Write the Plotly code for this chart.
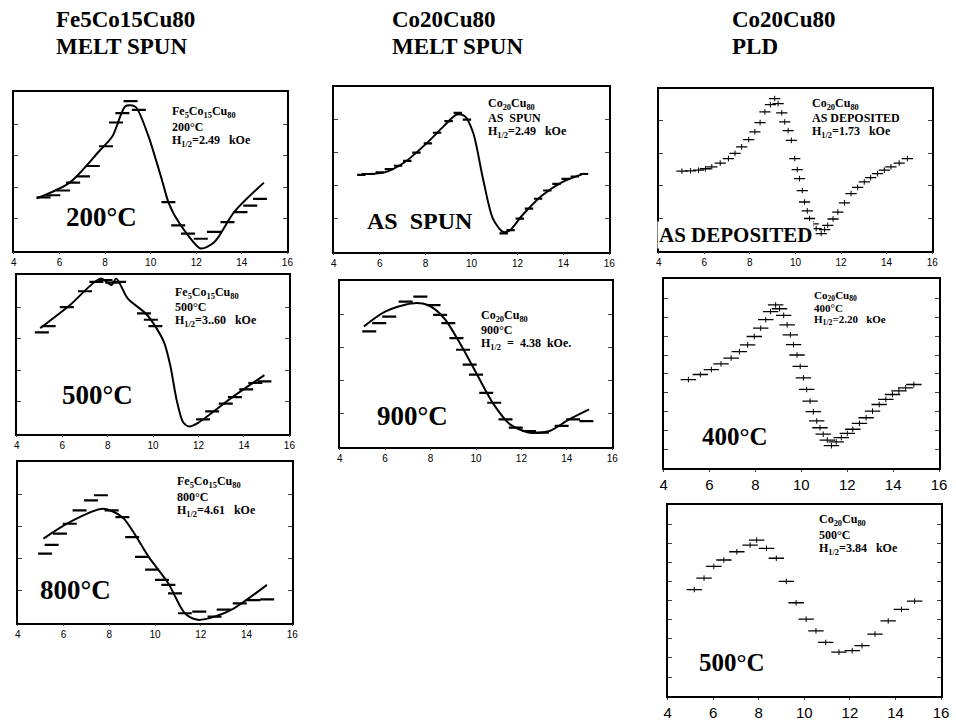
import plotly.graph_objects as go

# ---------------- data (y = relative signal 0..1 within each frame) ----------------
x_ticks = [4, 6, 8, 10, 12, 14, 16]
x_tick_text = ["4", "6", "8", "10", "12", "14", "16"]

# Fe5Co15Cu80 melt spun, 200 C
p1_fit_x = [5.0, 6.45, 7.75, 8.33, 8.9, 9.33, 9.9, 10.05, 10.49, 10.78, 11.06, 11.64, 12.2, 12.8, 13.67, 14.97]
p1_fit_y = [0.33, 0.43, 0.63, 0.725, 0.914, 0.91, 0.725, 0.66, 0.45, 0.306, 0.22, 0.097, 0.013, 0.055, 0.245, 0.43]
p1_dat_x = [5.3, 5.73, 6.16, 6.6, 7.03, 7.46, 8.04, 8.48, 8.76, 9.12, 9.48, 10.78, 11.21, 11.64, 12.2, 12.78, 13.37, 13.94, 14.37, 14.8]
p1_dat_y = [0.337, 0.35, 0.38, 0.43, 0.47, 0.535, 0.66, 0.81, 0.87, 0.945, 0.89, 0.306, 0.16, 0.107, 0.075, 0.118, 0.18, 0.243, 0.285, 0.327]

# Fe5Co15Cu80 melt spun, 500 C
p2_fit_x = [5.03, 6.32, 7.69, 8.17, 8.38, 8.88, 9.74, 10.46, 10.75, 11.04, 11.33, 11.6, 12.0, 13.45, 14.9]
p2_fit_y = [0.667, 0.81, 0.98, 0.94, 0.98, 0.855, 0.75, 0.585, 0.435, 0.21, 0.07, 0.045, 0.07, 0.226, 0.37]
p2_dat_x = [5.1, 5.4, 6.2, 7.0, 7.5, 7.9, 8.2, 8.5, 9.6, 9.9, 10.1, 12.2, 12.6, 13.2, 13.6, 14.1, 14.5, 14.9]
p2_dat_y = [0.64, 0.68, 0.8, 0.9, 0.96, 0.97, 0.955, 0.96, 0.76, 0.72, 0.68, 0.09, 0.14, 0.19, 0.23, 0.28, 0.32, 0.33]

# Fe5Co15Cu80 melt spun, 800 C
p3_fit_x = [5.12, 6.27, 7.71, 8.57, 9.72, 10.58, 11.3, 11.87, 12.6, 13.45, 14.89]
p3_fit_y = [0.524, 0.627, 0.71, 0.658, 0.41, 0.244, 0.058, 0.017, 0.037, 0.089, 0.235]
p3_dat_x = [5.19, 5.48, 5.84, 6.27, 6.7, 7.2, 7.63, 8.1, 8.57, 9.0, 9.43, 9.87, 10.3, 10.58, 10.87, 11.3, 11.93, 12.6, 13.0, 13.7, 14.3, 14.9]
p3_dat_y = [0.43, 0.485, 0.555, 0.617, 0.70, 0.763, 0.795, 0.70, 0.658, 0.534, 0.41, 0.33, 0.267, 0.235, 0.182, 0.058, 0.068, 0.037, 0.08, 0.12, 0.14, 0.145]

# Co20Cu80 melt spun, as spun
m1_fit_x = [5.21, 6.21, 7.07, 8.07, 8.79, 9.36, 9.71, 10.07, 10.5, 10.93, 11.36, 11.64, 12.21, 13.07, 13.93, 14.93]
m1_fit_y = [0.47, 0.48, 0.54, 0.66, 0.76, 0.83, 0.82, 0.72, 0.44, 0.2, 0.12, 0.125, 0.22, 0.34, 0.42, 0.474]
m1_dat_x = [5.2, 5.6, 6.0, 6.4, 6.8, 7.2, 7.6, 8.1, 8.5, 9.0, 9.4, 9.8, 11.4, 11.7, 12.1, 12.5, 12.9, 13.3, 13.7, 14.1, 14.5, 14.9]
m1_dat_y = [0.465, 0.47, 0.48, 0.5, 0.52, 0.55, 0.6, 0.655, 0.72, 0.79, 0.84, 0.8, 0.11, 0.13, 0.2, 0.26, 0.32, 0.37, 0.41, 0.44, 0.455, 0.47]

# Co20Cu80 melt spun, 900 C
m2_fit_x = [5.06, 6.0, 7.16, 7.88, 8.6, 9.33, 10.05, 10.78, 11.5, 12.37, 13.24, 14.1, 14.98]
m2_fit_y = [0.727, 0.817, 0.867, 0.857, 0.777, 0.616, 0.435, 0.255, 0.134, 0.084, 0.094, 0.164, 0.225]
m2_dat_x = [5.3, 5.74, 6.18, 6.9, 7.55, 8.13, 8.42, 8.78, 9.14, 9.43, 9.72, 10.0, 10.45, 10.8, 11.3, 11.75, 12.33, 12.9, 13.77, 14.28, 14.86]
m2_dat_y = [0.697, 0.747, 0.787, 0.878, 0.908, 0.857, 0.797, 0.747, 0.657, 0.586, 0.496, 0.435, 0.325, 0.265, 0.164, 0.114, 0.094, 0.084, 0.125, 0.164, 0.154]

# Co20Cu80 PLD, as deposited
r1_dat_x = [5.02, 5.4, 5.75, 6.05, 6.33, 6.7, 7.06, 7.35, 7.64, 7.95, 8.22, 8.45, 8.66, 8.9, 9.09, 9.24, 9.4, 9.53, 9.68, 9.82, 9.97, 10.08, 10.18, 10.3, 10.4, 10.52, 10.62, 10.78, 10.91, 11.13, 11.28, 11.42, 11.65, 11.86, 12.15, 12.44, 12.73, 13.02, 13.3, 13.6, 13.9, 14.19, 14.55, 14.91]
r1_dat_y = [0.49, 0.492, 0.496, 0.505, 0.517, 0.54, 0.568, 0.6, 0.64, 0.685, 0.733, 0.79, 0.856, 0.9, 0.938, 0.907, 0.85, 0.794, 0.74, 0.68, 0.568, 0.5, 0.444, 0.37, 0.3, 0.245, 0.198, 0.165, 0.136, 0.105, 0.13, 0.156, 0.195, 0.238, 0.295, 0.352, 0.39, 0.424, 0.45, 0.475, 0.497, 0.517, 0.54, 0.568]

# Co20Cu80 PLD, 400 C
r2_dat_x = [5.08, 5.6, 6.08, 6.5, 6.94, 7.3, 7.66, 7.95, 8.23, 8.45, 8.66, 8.88, 9.05, 9.23, 9.38, 9.52, 9.66, 9.81, 9.95, 10.09, 10.23, 10.38, 10.52, 10.67, 10.81, 10.95, 11.13, 11.31, 11.52, 11.74, 12.0, 12.24, 12.53, 12.82, 13.1, 13.39, 13.68, 13.97, 14.25, 14.54, 14.9]
r2_dat_y = [0.47, 0.497, 0.523, 0.553, 0.584, 0.618, 0.654, 0.698, 0.742, 0.787, 0.83, 0.865, 0.845, 0.81, 0.76, 0.707, 0.655, 0.6, 0.54, 0.479, 0.418, 0.356, 0.3, 0.251, 0.215, 0.181, 0.15, 0.12, 0.14, 0.163, 0.185, 0.207, 0.238, 0.268, 0.303, 0.338, 0.365, 0.391, 0.41, 0.426, 0.444]

# Co20Cu80 PLD, 500 C
r3_dat_x = [5.17, 5.6, 6.03, 6.47, 7.04, 7.62, 7.91, 8.34, 8.77, 9.21, 9.64, 10.08, 10.51, 10.94, 11.52, 12.1, 12.53, 13.1, 13.68, 14.26, 14.84]
r3_dat_y = [0.558, 0.618, 0.679, 0.713, 0.756, 0.791, 0.817, 0.774, 0.722, 0.601, 0.489, 0.403, 0.342, 0.281, 0.23, 0.238, 0.264, 0.325, 0.394, 0.454, 0.497]

col_titles = [("Fe5Co15Cu80", "MELT SPUN"), ("Co20Cu80", "MELT SPUN"), ("Co20Cu80", "PLD")]

panel_info = [
    ["Fe<sub>5</sub>Co<sub>15</sub>Cu<sub>80</sub>", "200°C", "H<sub>1/2</sub>=2.49   kOe", "200°C"],
    ["Fe<sub>5</sub>Co<sub>15</sub>Cu<sub>80</sub>", "500°C", "H<sub>1/2</sub>=3..60   kOe", "500°C"],
    ["Fe<sub>5</sub>Co<sub>15</sub>Cu<sub>80</sub>", "800°C", "H<sub>1/2</sub>=4.61   kOe", "800°C"],
    ["Co<sub>20</sub>Cu<sub>80</sub>", "AS  SPUN", "H<sub>1/2</sub>=2.49   kOe", "AS  SPUN"],
    ["Co<sub>20</sub>Cu<sub>80</sub>", "900°C", "H<sub>1/2</sub>  =  4.38  kOe.", "900°C"],
    ["Co<sub>20</sub>Cu<sub>80</sub>", "AS DEPOSITED", "H<sub>1/2</sub>=1.73   kOe", "AS DEPOSITED"],
    ["Co<sub>20</sub>Cu<sub>80</sub>", "400°C", "H<sub>1/2</sub>=2.20   kOe", "400°C"],
    ["Co<sub>20</sub>Cu<sub>80</sub>", "500°C", "H<sub>1/2</sub>=3.84   kOe", "500°C"],
]

# ---------------- layout (pixel geometry) ----------------
W, H = 956, 721
SERIF = "Liberation Serif, Times New Roman, serif"
SANS = "Liberation Sans, Arial, sans-serif"

# (left, right, top, bottom) frame boxes in pixels
boxes = [
    (10, 287, 93, 252),
    (13, 289, 277, 436),
    (14, 292, 465, 626),
    (334, 613, 87, 253),
    (340, 616, 283, 449),
    (663, 940, 89, 252),
    (668, 947, 281, 471),
    (672, 949, 508, 700),
]
# inner text position (x left, y of first line, line spacing)
inner_pos = [
    (168, 113, 14.5), (171, 295, 14), (173, 485, 14.5),
    (488, 105, 14), (481, 318, 14),
    (816, 105, 14), (818, 298, 12), (823, 523, 14.5),
]
# big label centre (x, y) and size
big_pos = [(99, 218, 27), (95, 397, 27), (72, 593, 27), (421, 222, 24),
           (414, 418, 27), (741, 236, 21), (740, 439, 25), (737, 666, 25)]
tick_size = [10, 10, 10, 10, 10, 10, 15, 15]
inner_size = [12, 12, 12, 12, 12, 12, 11, 12]

fits = [(p1_fit_x, p1_fit_y), (p2_fit_x, p2_fit_y), (p3_fit_x, p3_fit_y),
        (m1_fit_x, m1_fit_y), (m2_fit_x, m2_fit_y), None, None, None]
dats = [(p1_dat_x, p1_dat_y), (p2_dat_x, p2_dat_y), (p3_dat_x, p3_dat_y),
        (m1_dat_x, m1_dat_y), (m2_dat_x, m2_dat_y),
        (r1_dat_x, r1_dat_y), (r2_dat_x, r2_dat_y), (r3_dat_x, r3_dat_y)]

fig = go.Figure()
layout_axes = {}
annotations = []

for i, (l, r, t, b) in enumerate(boxes):
    n = "" if i == 0 else str(i + 1)
    xa, ya = "x" + n, "y" + n
    layout_axes["xaxis" + n] = dict(
        domain=[l / W, r / W], range=[4, 16], anchor=ya,
        tickvals=x_ticks, ticktext=x_tick_text, ticks="outside", ticklen=2,
        tickfont=dict(family=SANS, size=tick_size[i], color="black"),
        showline=True, linecolor="black", linewidth=1.5, mirror=True,
        showgrid=False, zeroline=False, fixedrange=True,
    )
    layout_axes["yaxis" + n] = dict(
        domain=[1 - b / H, 1 - t / H], range=[0, 1], anchor=xa,
        showticklabels=False, ticks="inside", ticklen=4, dtick=0.1 if i >= 6 else 0.2,
        showline=True, linecolor="black", linewidth=2, mirror="ticks",
        showgrid=False, zeroline=False, fixedrange=True,
    )
    if fits[i] is not None:
        fx, fy = fits[i]
        fig.add_trace(go.Scatter(x=fx, y=fy, xaxis=xa, yaxis=ya, mode="lines",
                                 line=dict(color="black", width=2, shape="spline", smoothing=0.8),
                                 showlegend=False, hoverinfo="skip"))
    dx, dy = dats[i]
    if i < 5:
        msize = 6 if i == 3 else 10
        fig.add_trace(go.Scatter(x=dx, y=dy, xaxis=xa, yaxis=ya, mode="markers",
                                 marker=dict(symbol="line-ew", size=msize, line=dict(color="black", width=2.2)),
                                 showlegend=False, hoverinfo="skip"))
    else:
        ew = 8 if i == 5 else 11
        fig.add_trace(go.Scatter(x=dx, y=dy, xaxis=xa, yaxis=ya, mode="markers",
                                 marker=dict(symbol="line-ew", size=ew, line=dict(color="black", width=1.3)),
                                 showlegend=False, hoverinfo="skip"))
        fig.add_trace(go.Scatter(x=dx, y=dy, xaxis=xa, yaxis=ya, mode="markers",
                                 marker=dict(symbol="line-ns", size=4, line=dict(color="black", width=1)),
                                 showlegend=False, hoverinfo="skip"))

    # inner text block
    ix, iy, sp = inner_pos[i]
    for k in range(3):
        annotations.append(dict(
            x=ix / W, y=1 - (iy + k * sp) / H, xref="paper", yref="paper",
            xanchor="left", yanchor="middle", showarrow=False,
            text="<b>" + panel_info[i][k] + "</b>",
            font=dict(family=SERIF, size=inner_size[i], color="black"),
        ))
    # big label
    bx, by, bs = big_pos[i]
    big = dict(x=bx / W, y=1 - by / H, xref="paper", yref="paper",
               xanchor="center", yanchor="middle", showarrow=False,
               text="<b>" + panel_info[i][3] + "</b>",
               font=dict(family=SERIF, size=bs, color="black"))
    if i == 5:
        big.update(bgcolor="white", borderpad=1)
    annotations.append(big)

# column titles
title_x = [51, 391, 735]
for c, (t1, t2) in enumerate(col_titles):
    for k, (txt, yy) in enumerate([(t1, 20), (t2, 47)]):
        annotations.append(dict(
            x=title_x[c] / W, y=1 - yy / H, xref="paper", yref="paper",
            xanchor="left", yanchor="middle", showarrow=False,
            text="<b>" + txt + "</b>",
            font=dict(family=SERIF, size=23, color="black"),
        ))

fig.update_layout(
    width=W, height=H, margin=dict(l=0, r=0, t=0, b=0),
    paper_bgcolor="white", plot_bgcolor="white",
    annotations=annotations, showlegend=False,
    **layout_axes,
)

fig.write_html(
    "out.html",
    config={"displayModeBar": False},
    post_script="document.body.style.margin='0';document.body.style.padding='0';document.body.style.overflow='hidden';",
)
